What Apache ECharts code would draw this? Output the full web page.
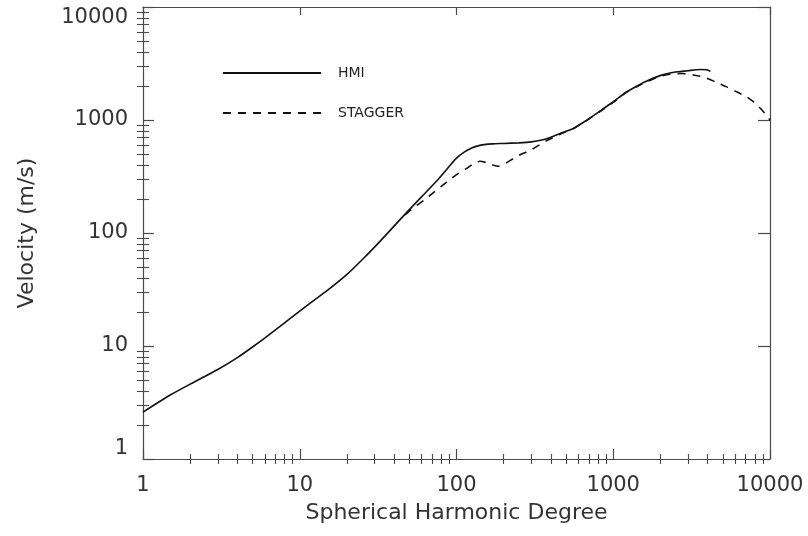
<!DOCTYPE html>
<html>
<head>
<meta charset="utf-8">
<script src="https://cdn.jsdelivr.net/npm/echarts@6/dist/echarts.min.js"></script>
<style>html,body{margin:0;padding:0;background:#fff}#chart{width:808px;height:536px}</style>
</head>
<body>
<div id="chart"></div>
<script>
// ---- data ----
const hmiDegree = [1, 1.5, 2, 3, 4, 5, 6, 8, 10, 12, 15, 20, 25, 30, 37.6, 47, 60, 75, 90, 100, 112, 125, 137, 150, 170, 200, 250, 300, 350, 400, 470, 556, 650, 823, 1000, 1200, 1400, 1600, 1986, 2300, 2666, 3000, 3576, 3946, 4170];
const hmiVelocity = [2.6, 3.7, 4.6, 6.2, 7.9, 9.8, 11.8, 16, 20.4, 24.7, 31, 43, 58, 75, 105, 147, 210, 290, 390, 460, 520, 565, 590, 605, 615, 620, 628, 640, 665, 705, 770, 842, 960, 1200, 1450, 1750, 1980, 2180, 2470, 2610, 2680, 2730, 2800, 2780, 2700];
const staggerDegree = [47, 55, 62, 71, 80, 87, 100, 116, 130, 141, 155, 170, 185, 200, 230, 260, 293, 330, 370, 420, 500, 556, 650, 823, 1000, 1200, 1400, 1600, 1986, 2300, 2666, 3000, 3244, 3756, 4500, 5297, 6000, 7100, 8200, 9520, 10000];
const staggerVelocity = [145, 173, 195, 227, 258, 284, 328, 373, 415, 432, 420, 400, 390, 405, 455, 500, 535, 590, 650, 705, 790, 838, 955, 1190, 1430, 1740, 1960, 2150, 2430, 2540, 2580, 2560, 2500, 2404, 2170, 1963, 1800, 1603, 1380, 1100, 1000];
const seriesNames = ['HMI', 'STAGGER'];
const xTickLabels = ['1', '10', '100', '1000', '10000'];
const yTickLabels = ['1', '10', '100', '1000', '10000'];
const xTitle = 'Spherical Harmonic Degree';
const yTitle = 'Velocity (m/s)';

// minor tick positions (log10 of 2..9 within each decade)
const minorLog = [];
for (let d = 0; d < 4; d++) for (let k = 2; k <= 9; k++) minorLog.push(d + Math.log10(k));

const FONT = 'DejaVu Sans';
const AX = '#4a4a4a';
const zip = (a, b) => a.map((v, i) => [v, b[i]]);

function majorAxis(pos, showLabel, labels, tickLen) {
  return {
    type: 'log', logBase: 10, min: 1, max: 10000, position: pos,
    axisLine: { show: true, onZero: false, lineStyle: { color: AX, width: 1.2 } },
    axisTick: { show: true, inside: true, length: tickLen, lineStyle: { color: AX, width: 1.2 } },
    axisLabel: { show: showLabel, color: '#333', fontFamily: FONT, fontSize: 21,
      formatter: v => labels[Math.round(Math.log10(v))] },
    splitLine: { show: false }, minorTick: { show: false }
  };
}
function minorAxis(pos, tickLen) {
  return {
    type: 'value', min: 0, max: 4, position: pos,
    axisLine: { show: false },
    axisTick: { show: true, inside: true, length: tickLen, customValues: minorLog, lineStyle: { color: AX, width: 1.1 } },
    axisLabel: { show: false }, splitLine: { show: false }
  };
}

const xMain = majorAxis('bottom', true, xTickLabels, 10);
xMain.axisLabel.margin = 16;
xMain.name = xTitle; xMain.nameLocation = 'middle'; xMain.nameGap = 43;
xMain.nameTextStyle = { fontFamily: FONT, fontSize: 22, color: '#333' };

const yMain = majorAxis('left', true, yTickLabels, 11);
yMain.axisLabel.margin = 15;
yMain.axisLabel.verticalAlignMaxLabel = 'top';
yMain.axisLabel.verticalAlignMinLabel = 'bottom';
yMain.name = yTitle; yMain.nameLocation = 'middle'; yMain.nameGap = 105;
yMain.nameTextStyle = { fontFamily: FONT, fontSize: 22, color: '#333' };

const chart = echarts.init(document.getElementById('chart'), null, { renderer: 'canvas' });
chart.setOption({
  backgroundColor: '#fff',
  animation: false,
  grid: { left: 143, right: 38, top: 7, bottom: 77, containLabel: false },
  legend: {
    data: seriesNames, orient: 'vertical', left: 222, top: 66, padding: 0,
    itemWidth: 98, itemHeight: 14, itemGap: 26,
    itemStyle: { opacity: 0 },
    textStyle: { fontFamily: FONT, fontSize: 14, color: '#222', padding: [0, 0, 0, 12] }
  },
  xAxis: [xMain, majorAxis('top', false, xTickLabels, 8), minorAxis('bottom', 5), minorAxis('top', 5)],
  yAxis: [yMain, majorAxis('right', false, yTickLabels, 12), minorAxis('left', 6), minorAxis('right', 6)],
  series: [
    { name: seriesNames[1], type: 'line', xAxisIndex: 0, yAxisIndex: 0, data: zip(staggerDegree, staggerVelocity),
      symbol: 'none', smooth: 0.2, z: 2, itemStyle: { color: '#111' },
      lineStyle: { color: '#111', width: 1.6, type: [8, 7] } },
    { name: seriesNames[0], type: 'line', xAxisIndex: 0, yAxisIndex: 0, data: zip(hmiDegree, hmiVelocity),
      symbol: 'none', smooth: 0.2, z: 3, itemStyle: { color: '#111' },
      lineStyle: { color: '#111', width: 1.6 } }
  ]
});
</script>
</body>
</html>
